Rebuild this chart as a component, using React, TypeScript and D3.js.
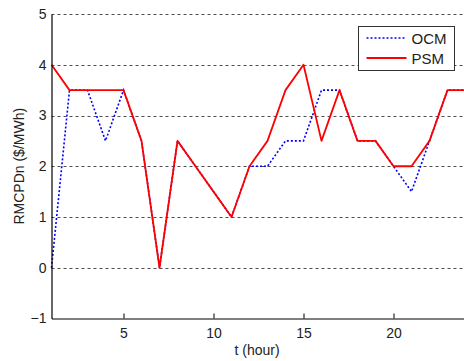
import React, { useEffect, useRef } from 'react';
import * as d3 from 'd3';

const hours = [1, 2, 3, 4, 5, 6, 7, 8, 9, 10, 11, 12, 13, 14, 15, 16, 17, 18, 19, 20, 21, 22, 23, 24];
const ocm = [0, 3.5, 3.5, 2.5, 3.5, 2.5, 0, 2.5, 2, 1.5, 1, 2, 2, 2.5, 2.5, 3.5, 3.5, 2.5, 2.5, 2, 1.5, 2.5, 3.5, 3.5];
const psm = [4, 3.5, 3.5, 3.5, 3.5, 2.5, 0, 2.5, 2, 1.5, 1, 2, 2.5, 3.5, 4, 2.5, 3.5, 2.5, 2.5, 2, 2, 2.5, 3.5, 3.5];
const xTicks = [5, 10, 15, 20];
const yTicks = [-1, 0, 1, 2, 3, 4, 5];
const seriesNames = ['OCM', 'PSM'];

const font = 'Arial, "Liberation Sans", Helvetica, sans-serif';

function App() {
  const svgRef = useRef<SVGSVGElement>(null);

  useEffect(() => {
    const width = 464;
    const height = 361;
    const svg = d3.select(svgRef.current)
      .attr('width', width)
      .attr('height', height)
      .style('font-family', font);

    const x = d3.scaleLinear().domain([1, 24]).range([51.5, 465.5]);
    const y = d3.scaleLinear().domain([-1, 5]).range([318.5, 14]);

    // dashed gridlines
    svg.append('g')
      .selectAll('line')
      .data(yTicks.filter(d => d > -1))
      .join('line')
      .attr('x1', x(1))
      .attr('x2', width)
      .attr('y1', d => Math.round(y(d)) + 0.5)
      .attr('y2', d => Math.round(y(d)) + 0.5)
      .attr('stroke', '#222')
      .attr('stroke-width', 0.8)
      .attr('stroke-dasharray', '3,3');

    const line = d3.line<number>()
      .x((d, i) => x(hours[i]))
      .y(d => y(d));

    svg.append('path')
      .datum(ocm)
      .attr('fill', 'none')
      .attr('stroke', '#0000ff')
      .attr('stroke-width', 1.6)
      .attr('stroke-dasharray', '2,2')
      .attr('d', line);

    svg.append('path')
      .datum(psm)
      .attr('fill', 'none')
      .attr('stroke', '#ff0000')
      .attr('stroke-width', 1.8)
      .attr('stroke-linejoin', 'round')
      .attr('d', line);

    // axes
    const xAxis = svg.append('g')
      .attr('transform', `translate(0,${y(-1)})`)
      .call(d3.axisBottom(x).tickValues(xTicks).tickSizeInner(-5).tickSizeOuter(0).tickPadding(10));
    xAxis.select('.domain').attr('stroke', '#000').attr('stroke-width', 1.2);
    xAxis.selectAll('text').attr('font-size', 14).attr('fill', '#222').attr('font-family', font);

    const yAxis = svg.append('g')
      .attr('transform', `translate(${x(1)},0)`)
      .call(d3.axisLeft(y).tickValues(yTicks).tickSize(0).tickPadding(5).tickFormat(d3.format('d')));
    yAxis.select('.domain').attr('stroke', '#000').attr('stroke-width', 1.2);
    yAxis.selectAll('text').attr('font-size', 14).attr('fill', '#222').attr('font-family', font);

    svg.append('text')
      .attr('x', 257)
      .attr('y', 355)
      .attr('text-anchor', 'middle')
      .attr('font-size', 14)
      .attr('fill', '#222')
      .text('t (hour)');

    svg.append('text')
      .attr('transform', `translate(23.5,${(y(-1) + y(5)) / 2}) rotate(-90)`)
      .attr('text-anchor', 'middle')
      .attr('font-size', 14)
      .attr('fill', '#222')
      .text('RMCPDn ($/MWh)');

    // legend
    const lg = svg.append('g').attr('transform', 'translate(358.5,26.5)');
    lg.append('rect')
      .attr('width', 96)
      .attr('height', 44)
      .attr('fill', '#fff')
      .attr('stroke', '#333')
      .attr('stroke-width', 1);
    seriesNames.forEach((name, i) => {
      const ly = 11.5 + i * 20;
      lg.append('line')
        .attr('x1', 8)
        .attr('x2', 48)
        .attr('y1', ly)
        .attr('y2', ly)
        .attr('stroke', i === 0 ? '#0000ff' : '#ff0000')
        .attr('stroke-width', i === 0 ? 1.6 : 1.8)
        .attr('stroke-dasharray', i === 0 ? '2,2' : null);
      lg.append('text')
        .attr('x', 53)
        .attr('y', ly + 5.5)
        .attr('font-size', 15)
        .attr('fill', '#222')
        .text(name);
    });

    return () => {
      svg.selectAll('*').remove();
    };
  }, []);

  return (
    <div style={{ position: 'absolute', left: 0, top: 0 }}>
      <svg ref={svgRef}></svg>
    </div>
  );
}

export default App;
